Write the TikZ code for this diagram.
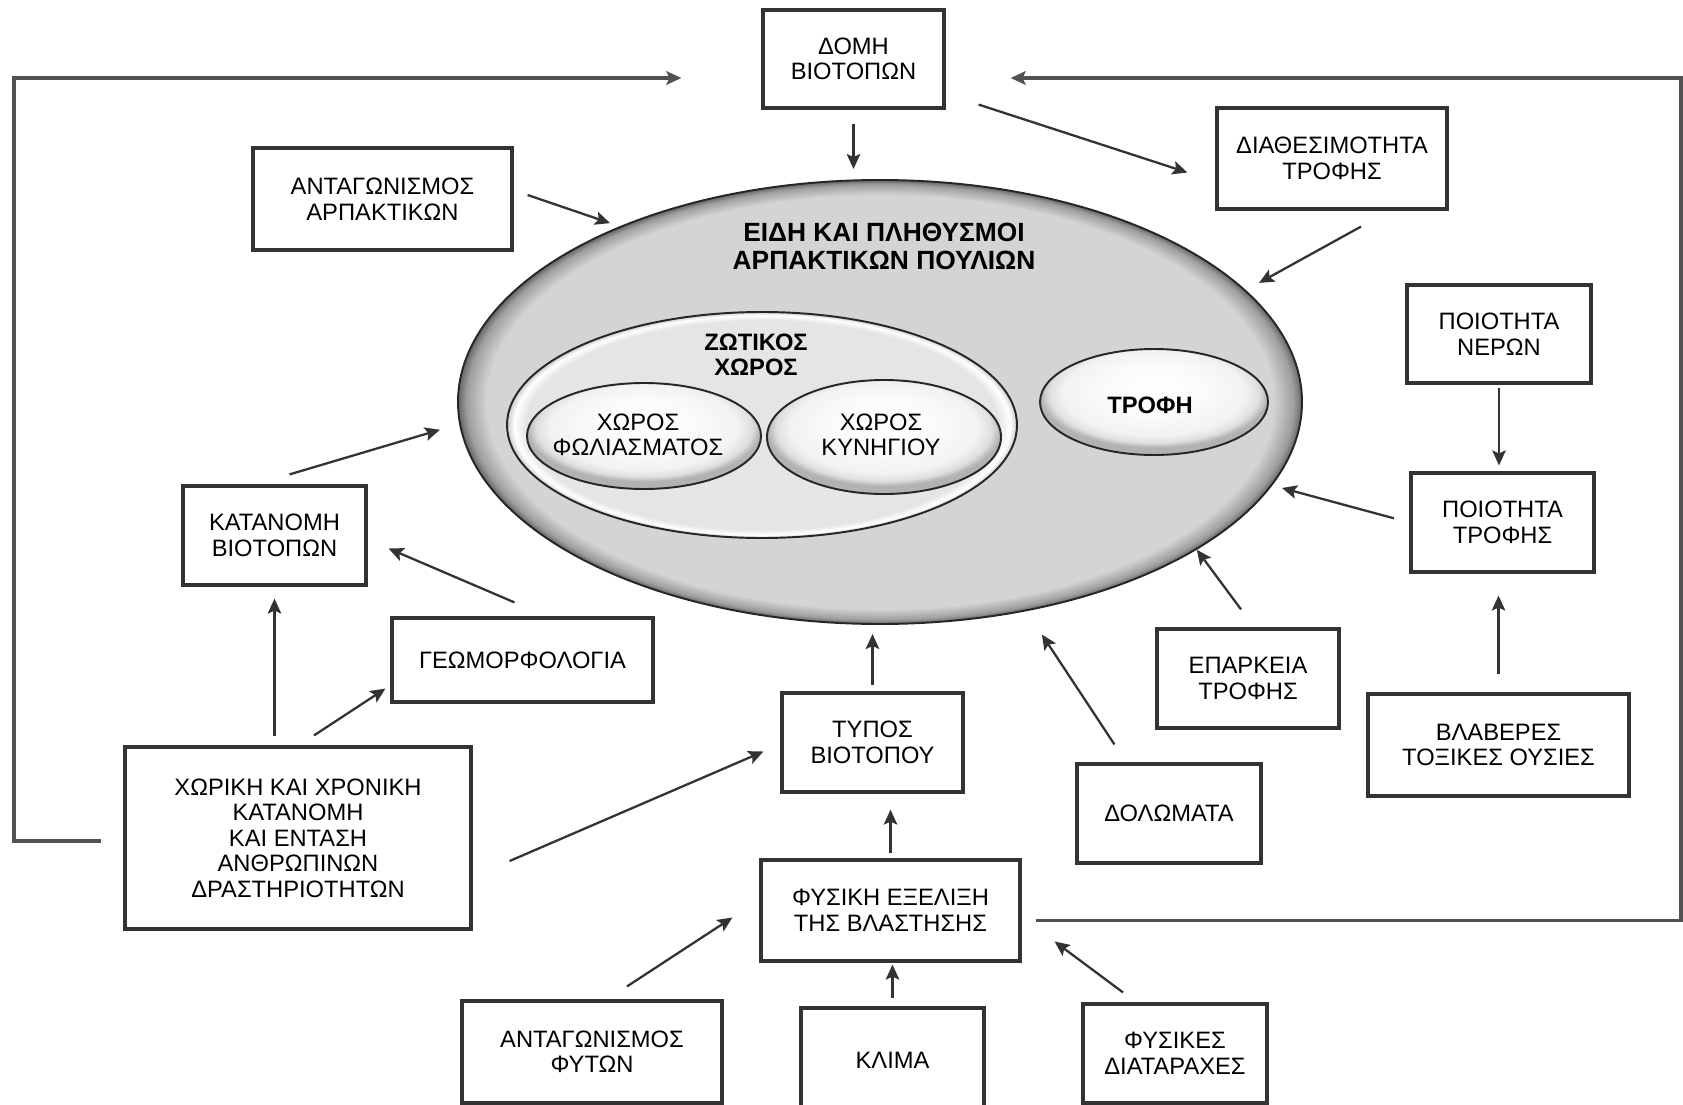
\documentclass[tikz,border=0pt]{standalone}
\usepackage{fontspec}
\setmainfont{Liberation Sans}
\usepackage{tikz}
\usetikzlibrary{calc}
\usetikzlibrary{arrows, arrows.meta, positioning, shapes.geometric}

\definecolor{popfill}{gray}{0.83}
\definecolor{popmid}{gray}{0.62}
\definecolor{popdark}{gray}{0.40}
\definecolor{zotfill}{gray}{0.90}
\definecolor{linegray}{gray}{0.2}

\pgfdeclareradialshading{popshade}{\pgfpoint{0bp}{0bp}}{color(0bp)=(popfill); color(23.3bp)=(popfill); color(24.5bp)=(popmid); color(25bp)=(popdark); color(50bp)=(popdark)}
\pgfdeclareradialshading{zotshade}{\pgfpoint{0bp}{0bp}}{color(0bp)=(zotfill); color(23.2bp)=(zotfill); color(24.3bp)=(white); color(25bp)=(gray!40); color(50bp)=(gray!40)}
\pgfdeclareradialshading{pillshade}{\pgfpoint{0bp}{7bp}}{color(0bp)=(white); color(12bp)=(gray!4); color(20bp)=(gray!10); color(23bp)=(gray!25); color(25bp)=(gray!60); color(50bp)=(gray!60)}

\begin{document}
\begin{tikzpicture}[x=0.02cm, y=-0.02cm, >={Stealth[length=0.3cm, width=0.27cm, inset=0.06cm]},
	every node/.style={font=\fontsize{13.5}{14.5}\selectfont},
	box/.style 2 args={draw=linegray, line width=1.8pt, fill=white, align=center, inner sep=0pt, minimum width=#1*0.02cm, minimum height=#2*0.02cm},
	blob/.style 2 args={ellipse, draw=black!85, line width=1.1pt, inner sep=0pt, minimum width=#1*0.02cm, minimum height=#2*0.02cm},
	heading/.style={font=\fontsize{13.5}{14.5}\selectfont\bfseries, align=center},
	arr/.style={->, draw=linegray, line width=1.3pt},
	feedback/.style={->, draw=linegray!85, line width=1.8pt}]
	
	\path[fill=white, use as bounding box] (0,0) rectangle (1683,1105);
	
	% Central ellipses
	\node[blob={844}{444}, shading=popshade] (pop) at (880,402) {};
	\node[blob={510}{226}, shading=zotshade] (zot) at (762,425) {};
	\node[blob={234}{106}, shading=pillshade] (folias) at (644,436) {};
	\node[blob={234}{114}, shading=pillshade] (kyn) at (884,437) {};
	\node[blob={228}{106}, shading=pillshade] (trofh) at (1154,402) {};
	
	\node[heading, font=\fontsize{15}{16}\selectfont\bfseries] (poptext) at (884,246) {ΕΙΔΗ ΚΑΙ ΠΛΗΘΥΣΜΟΙ\\ΑΡΠΑΚΤΙΚΩΝ ΠΟΥΛΙΩΝ};
	\node[heading] (zottext) at (756,355) {ΖΩΤΙΚΟΣ\\ΧΩΡΟΣ};
	\node[align=center] (foliastext) at (638,435) {ΧΩΡΟΣ\\ΦΩΛΙΑΣΜΑΤΟΣ};
	\node[align=center] (kyntext) at (881,435) {ΧΩΡΟΣ\\ΚΥΝΗΓΙΟΥ};
	\node[heading] (trofhtext) at (1150,405) {ΤΡΟΦΗ};
	
	% Boxes
	\node[box={181}{98}] (domh) at (853.5,59) {ΔΟΜΗ\\ΒΙΟΤΟΠΩΝ};
	\node[box={259}{102}] (antarp) at (382.5,199) {ΑΝΤΑΓΩΝΙΣΜΟΣ\\ΑΡΠΑΚΤΙΚΩΝ};
	\node[box={230}{101}] (diath) at (1332,158.5) {ΔΙΑΘΕΣΙΜΟΤΗΤΑ\\ΤΡΟΦΗΣ};
	\node[box={184}{98}] (poiner) at (1499,334) {ΠΟΙΟΤΗΤΑ\\ΝΕΡΩΝ};
	\node[box={183}{99}] (poitr) at (1502.5,522.5) {ΠΟΙΟΤΗΤΑ\\ΤΡΟΦΗΣ};
	\node[box={183}{99}] (katan) at (274.5,535.5) {ΚΑΤΑΝΟΜΗ\\ΒΙΟΤΟΠΩΝ};
	\node[box={261}{84}] (geom) at (522.5,660) {ΓΕΩΜΟΡΦΟΛΟΓΙΑ};
	\node[box={346}{182}] (chor) at (298,838) {ΧΩΡΙΚΗ ΚΑΙ ΧΡΟΝΙΚΗ\\ΚΑΤΑΝΟΜΗ\\ΚΑΙ ΕΝΤΑΣΗ\\ΑΝΘΡΩΠΙΝΩΝ\\ΔΡΑΣΤΗΡΙΟΤΗΤΩΝ};
	\node[box={181}{99}] (typos) at (872.5,742.5) {ΤΥΠΟΣ\\ΒΙΟΤΟΠΟΥ};
	\node[box={184}{99}] (dolom) at (1169,813.5) {ΔΟΛΩΜΑΤΑ};
	\node[box={182}{99}] (eparkeia) at (1248,678.5) {ΕΠΑΡΚΕΙΑ\\ΤΡΟΦΗΣ};
	\node[box={261}{102}] (vlav) at (1498.5,745) {ΒΛΑΒΕΡΕΣ\\ΤΟΞΙΚΕΣ ΟΥΣΙΕΣ};
	\node[box={259}{101}] (fysexel) at (890.5,910.5) {ΦΥΣΙΚΗ ΕΞΕΛΙΞΗ\\ΤΗΣ ΒΛΑΣΤΗΣΗΣ};
	\node[box={260}{102}] (antfyt) at (592,1052) {ΑΝΤΑΓΩΝΙΣΜΟΣ\\ΦΥΤΩΝ};
	\node[box={183}{104}] (klima) at (892.5,1060) {ΚΛΙΜΑ};
	\node[box={184}{99}] (fysdiat) at (1175,1053.5) {ΦΥΣΙΚΕΣ\\ΔΙΑΤΑΡΑΧΕΣ};
	
	% Arrows into the ellipse
	\draw[arr, shorten <=0.28cm, shorten >=0.2cm] (domh.south) -- (domh.south |- pop.north);
	\draw[arr, shorten >=0.2cm] ($(antarp.east)+(14,-4)$) -- (pop.146);
	\draw[arr, shorten >=0.3cm] ($(diath.south)+(29,16)$) -- (pop.17);
	\draw[arr, shorten <=0.32cm, shorten >=0.2cm] (poitr.west) -- (pop.-12);
	\draw[arr] ($(eparkeia.north)+(-7,-18)$) -- (pop.-25);
	\draw[arr, shorten >=0.56cm] ($(dolom.north west)+(39,-18)$) -- (pop.-55);
	\draw[arr, shorten <=0.12cm, shorten >=0.18cm] (typos.north) -- (typos.north |- pop.south);
	\draw[arr, shorten >=0.4cm] ($(katan.north)+(15,-10)$) -- (pop.183);
	
	% Arrows between boxes
	\draw[arr] ($(domh.south east)+(33,-5)$) -- ($(diath.west)+(-28,14)$);
	\draw[arr, shorten <=0.06cm, shorten >=0.12cm] (poiner.south) -- (poiner.south |- poitr.north);
	\draw[arr, shorten <=0.36cm, shorten >=0.44cm] (vlav.north) -- (vlav.north |- poitr.south);
	\draw[arr, shorten <=0.1cm, shorten >=0.32cm] (fysexel.north) -- (fysexel.north |- typos.south);
	\draw[arr, shorten <=0.16cm, shorten >=0.04cm] (klima.north) -- (klima.north |- fysexel.south);
	\draw[arr] ($(antfyt.north)+(35,-13)$) -- ($(fysexel.west)+(-27,7)$);
	\draw[arr] ($(fysdiat.north)+(-52,-10)$) -- ($(fysexel.east)+(33,31)$);
	\draw[arr] ($(chor.east)+(37,23)$) -- ($(typos.west)+(-17,9)$);
	\draw[arr, shorten <=0.18cm, shorten >=0.24cm] (katan.south |- chor.north) -- (katan.south);
	\draw[arr] ($(chor.north)+(16,-10)$) -- ($(geom.south west)+(-5,-15)$);
	\draw[arr] ($(geom.north)+(-8,-14)$) -- ($(katan.east)+(21,13)$);
	
	% Feedback loops
	\coordinate (lrail) at (14,78);
	\coordinate (rrail) at (1681,78);
	\draw[feedback] ($(chor.west)+(-22,3)$) -| (lrail) -- ($(domh.west)+(-80,19)$);
	\draw[feedback] ($(fysexel.east)+(14,10)$) -| (rrail) -- ($(domh.east)+(65,19)$);
\end{tikzpicture}
\end{document}
